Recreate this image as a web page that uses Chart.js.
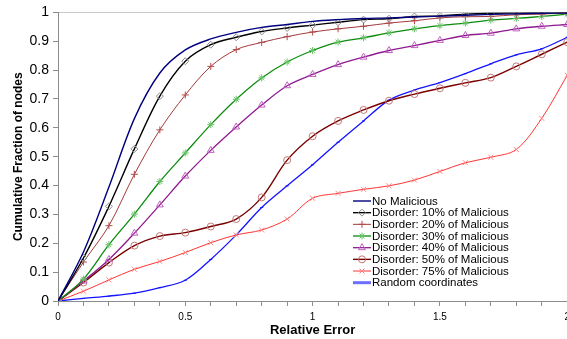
<!DOCTYPE html>
<html>
<head>
<meta charset="utf-8">
<script src="https://cdn.jsdelivr.net/npm/chart.js@4/dist/chart.umd.min.js"></script>
<style>
  html, body { margin: 0; padding: 0; background: #fff; overflow: hidden; width: 567px; height: 339px; }
  canvas { display: block; }
</style>
</head>
<body>
<canvas id="errorCdf" width="575" height="339"></canvas>
<script>
// relative error steps, 0 .. 2 by 0.1
const errorSteps = [0, 0.1, 0.2, 0.3, 0.4, 0.5, 0.6, 0.7, 0.8, 0.9, 1.0,
  1.1, 1.2, 1.3, 1.4, 1.5, 1.6, 1.7, 1.8, 1.9, 2.0];

const noMalicious = [0, 0.17, 0.395, 0.632, 0.79, 0.87, 0.908, 0.931, 0.948, 0.958, 0.969,
  0.975, 0.979, 0.981, 0.984, 0.987, 0.99, 0.993, 0.995, 0.997, 0.998];
const disorder10 = [0, 0.149, 0.328, 0.527, 0.71, 0.831, 0.888, 0.914, 0.934, 0.946, 0.956,
  0.966, 0.975, 0.978, 0.986, 0.988, 0.994, 0.997, 0.998, 0.999, 0.999];
const disorder20 = [0, 0.135, 0.261, 0.439, 0.593, 0.714, 0.813, 0.871, 0.896, 0.916, 0.932,
  0.943, 0.952, 0.963, 0.971, 0.981, 0.985, 0.986, 0.992, 0.994, 0.999];
const disorder30 = [0, 0.076, 0.195, 0.301, 0.414, 0.513, 0.611, 0.699, 0.773, 0.828, 0.868,
  0.897, 0.912, 0.929, 0.943, 0.954, 0.963, 0.973, 0.979, 0.986, 0.994];
const disorder40 = [0, 0.069, 0.144, 0.235, 0.333, 0.433, 0.522, 0.603, 0.679, 0.746, 0.785,
  0.819, 0.845, 0.868, 0.885, 0.903, 0.92, 0.928, 0.943, 0.952, 0.958];
const disorder50 = [0, 0.064, 0.133, 0.192, 0.225, 0.237, 0.258, 0.284, 0.359, 0.488, 0.571,
  0.624, 0.662, 0.694, 0.717, 0.737, 0.756, 0.774, 0.813, 0.855, 0.897];
const disorder75 = [0, 0.034, 0.073, 0.11, 0.137, 0.168, 0.202, 0.229, 0.246, 0.284, 0.356,
  0.373, 0.387, 0.399, 0.419, 0.449, 0.479, 0.498, 0.525, 0.633, 0.782];
const randomCoords = [0, 0.009, 0.017, 0.027, 0.046, 0.072, 0.144, 0.229, 0.324, 0.399, 0.472,
  0.55, 0.624, 0.696, 0.731, 0.757, 0.788, 0.822, 0.853, 0.874, 0.914];

const FONT = "'Liberation Sans', Arial, sans-serif";

function series(label, values, line, width, style, marker, radius, legendLine, legendWidth) {
  return {
    label: label,
    data: values.map((v, i) => ({ x: errorSteps[i], y: v })),
    borderColor: line,
    borderWidth: width,
    pointStyle: style,
    pointRadius: radius,
    pointBorderColor: marker,
    pointBackgroundColor: 'rgba(0,0,0,0)',
    pointBorderWidth: 1,
    legendLine: legendLine || line,
    legendWidth: legendWidth || width,
  };
}

const datasets = [
  series('No Malicious', noMalicious, '#00007f', 1.4, false, '#00007f', 0),
  series('Disorder: 10% of Malicious', disorder10, '#000000', 1.4, 'rectRot', '#8c8c8c', 3.5),
  series('Disorder: 20% of Malicious', disorder20, '#a33a3a', 1, 'cross', '#b24a4a', 3.5),
  series('Disorder: 30% of malicious', disorder30, '#0c8c0c', 1.3, 'star', '#66c266', 3.5),
  series('Disorder: 40% of Malicious', disorder40, '#8f1a8f', 1.3, 'triangle', '#c060c0', 4),
  series('Disorder: 50% of Malicious', disorder50, '#7a0000', 1.4, 'circle', '#c07878', 3.5),
  series('Disorder: 75% of Malicious', disorder75, '#ff3434', 1, 'crossRot', '#ff8080', 3.5),
  series('Random coordinates', randomCoords, '#1414ff', 1.3, 'line', '#1414ff', 1.5, '#6e6eff', 3),
];

// legend sits inside the plot, lower right, Excel style
const boxLegend = {
  id: 'boxLegend',
  afterDatasetsDraw(chart) {
    const ctx = chart.ctx;
    const area = chart.chartArea;
    const x0 = area.left + 295;
    const rowH = 11.67;
    const y0 = area.bottom - 100;
    ctx.save();
    ctx.font = '11.5px ' + FONT;
    ctx.textBaseline = 'middle';
    ctx.textAlign = 'left';
    chart.data.datasets.forEach((ds, i) => {
      const y = y0 + i * rowH;
      ctx.strokeStyle = ds.legendLine;
      ctx.lineWidth = ds.legendWidth;
      ctx.beginPath();
      ctx.moveTo(x0, y);
      ctx.lineTo(x0 + 18, y);
      ctx.stroke();
      if (ds.pointStyle && ds.pointStyle !== 'line') {
        ctx.strokeStyle = ds.pointBorderColor;
        ctx.fillStyle = 'rgba(0,0,0,0)';
        ctx.lineWidth = 1;
        Chart.helpers.drawPoint(ctx, { pointStyle: ds.pointStyle, radius: ds.pointRadius, rotation: 0, borderWidth: 1 }, x0 + 9, y);
      }
      ctx.fillStyle = '#000';
      ctx.fillText(ds.label, x0 + 19, y + 0.5);
    });
    ctx.restore();
  }
};

new Chart(document.getElementById('errorCdf'), {
  type: 'line',
  data: { datasets: datasets },
  plugins: [boxLegend],
  options: {
    responsive: false,
    animation: false,
    devicePixelRatio: 1,
    layout: { padding: { top: 10, left: 0, right: 0, bottom: 0 } },
    elements: { line: { tension: 0.33 } },
    plugins: { legend: { display: false }, tooltip: { enabled: false } },
    scales: {
      x: {
        type: 'linear',
        min: 0,
        max: 2,
        afterFit: (scale) => { scale.height = 38; },
        border: { color: '#8c8c8c', width: 1 },
        grid: { drawOnChartArea: false, tickLength: 5, tickColor: '#8c8c8c' },
        ticks: {
          stepSize: 0.1,
          autoSkip: false,
          maxRotation: 0,
          padding: 5,
          color: '#000',
          font: { family: FONT, size: 10 },
          callback: (v) => Math.abs(v * 2 - Math.round(v * 2)) < 1e-6 ? String(Math.round(v * 10) / 10) : '',
        },
        title: {
          display: true,
          text: 'Relative Error',
          color: '#000',
          font: { family: FONT, size: 13, weight: 'bold' },
          padding: { top: 0, bottom: 1 },
        },
      },
      y: {
        min: 0,
        max: 1,
        afterFit: (scale) => { scale.width = 58; },
        border: { color: '#8c8c8c', width: 1 },
        grid: {
          tickLength: 5,
          tickColor: '#8c8c8c',
          color: (c) => c.tick && c.tick.value === 1 ? '#c8c8c8' : 'rgba(0,0,0,0)',
        },
        ticks: {
          stepSize: 0.1,
          padding: 4,
          color: '#000',
          font: { family: FONT, size: 14 },
          callback: (v) => String(Math.round(v * 10) / 10),
        },
        title: {
          display: true,
          text: 'Cumulative Fraction of nodes',
          color: '#000',
          font: { family: FONT, size: 12, weight: 'bold' },
          padding: { top: 11, bottom: 0 },
        },
      },
    },
  },
});
</script>
</body>
</html>
